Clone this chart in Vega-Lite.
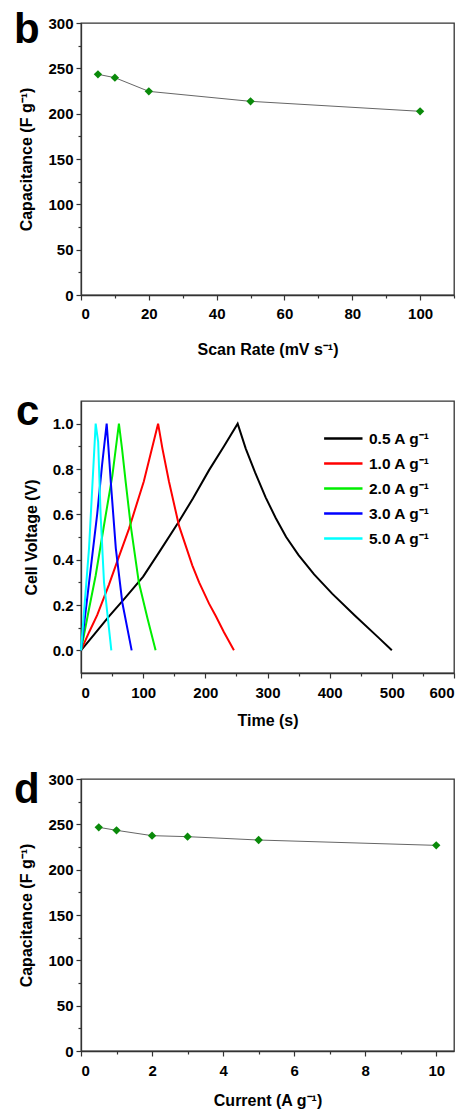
{
  "$schema": "https://vega.github.io/schema/vega-lite/v6.json",
  "background": "white",
  "padding": {"left": 13, "top": 8, "right": 2, "bottom": 0},
  "spacing": 106,
  "bounds": "flush",
  "resolve": {"scale": {"color": "independent"}, "legend": {"color": "independent"}},
  "config": {
    "font": "Liberation Sans",
    "view": {"stroke": "#333333", "strokeWidth": 1.3},
    "axis": {
      "labelFont": "Liberation Sans", "labelFontWeight": "bold", "labelFontSize": 15, "labelColor": "black",
      "titleFont": "Liberation Sans", "titleFontWeight": "bold", "titleFontSize": 16, "titleColor": "black",
      "domainColor": "#333333", "domainWidth": 1.3, "tickColor": "#333333", "tickWidth": 1.2, "grid": false
    },
    "legend": {"labelFont": "Liberation Sans"}
  },
  "datasets": {
    "b": [
      {"rate": 5, "cap": 243.4},
      {"rate": 10, "cap": 239.7},
      {"rate": 20, "cap": 224.6},
      {"rate": 50, "cap": 213.6},
      {"rate": 100, "cap": 202.6}
    ],
    "c": [
      {"series": "0.5 A g⁻¹", "t": 0, "v": 0.0},
      {"series": "0.5 A g⁻¹", "t": 20, "v": 0.066},
      {"series": "0.5 A g⁻¹", "t": 45, "v": 0.15},
      {"series": "0.5 A g⁻¹", "t": 70, "v": 0.228},
      {"series": "0.5 A g⁻¹", "t": 100, "v": 0.325},
      {"series": "0.5 A g⁻¹", "t": 125, "v": 0.43},
      {"series": "0.5 A g⁻¹", "t": 157, "v": 0.566},
      {"series": "0.5 A g⁻¹", "t": 180, "v": 0.67},
      {"series": "0.5 A g⁻¹", "t": 206, "v": 0.795},
      {"series": "0.5 A g⁻¹", "t": 230, "v": 0.9},
      {"series": "0.5 A g⁻¹", "t": 252, "v": 1.0},
      {"series": "0.5 A g⁻¹", "t": 265, "v": 0.89},
      {"series": "0.5 A g⁻¹", "t": 280, "v": 0.785},
      {"series": "0.5 A g⁻¹", "t": 297, "v": 0.675},
      {"series": "0.5 A g⁻¹", "t": 313, "v": 0.585},
      {"series": "0.5 A g⁻¹", "t": 330, "v": 0.5},
      {"series": "0.5 A g⁻¹", "t": 350, "v": 0.42},
      {"series": "0.5 A g⁻¹", "t": 375, "v": 0.335},
      {"series": "0.5 A g⁻¹", "t": 404, "v": 0.25},
      {"series": "0.5 A g⁻¹", "t": 440, "v": 0.155},
      {"series": "0.5 A g⁻¹", "t": 479, "v": 0.055},
      {"series": "0.5 A g⁻¹", "t": 500, "v": 0.0},
      {"series": "1.0 A g⁻¹", "t": 0, "v": 0.0},
      {"series": "1.0 A g⁻¹", "t": 13, "v": 0.08},
      {"series": "1.0 A g⁻¹", "t": 26, "v": 0.155},
      {"series": "1.0 A g⁻¹", "t": 45, "v": 0.29},
      {"series": "1.0 A g⁻¹", "t": 58, "v": 0.39},
      {"series": "1.0 A g⁻¹", "t": 77, "v": 0.535},
      {"series": "1.0 A g⁻¹", "t": 101, "v": 0.745},
      {"series": "1.0 A g⁻¹", "t": 124, "v": 1.0},
      {"series": "1.0 A g⁻¹", "t": 131, "v": 0.89},
      {"series": "1.0 A g⁻¹", "t": 141.5, "v": 0.745},
      {"series": "1.0 A g⁻¹", "t": 157.6, "v": 0.55},
      {"series": "1.0 A g⁻¹", "t": 179, "v": 0.375},
      {"series": "1.0 A g⁻¹", "t": 190, "v": 0.3},
      {"series": "1.0 A g⁻¹", "t": 206, "v": 0.206},
      {"series": "1.0 A g⁻¹", "t": 217, "v": 0.15},
      {"series": "1.0 A g⁻¹", "t": 230, "v": 0.08},
      {"series": "1.0 A g⁻¹", "t": 246, "v": 0.0},
      {"series": "2.0 A g⁻¹", "t": 0, "v": 0.0},
      {"series": "2.0 A g⁻¹", "t": 12, "v": 0.17},
      {"series": "2.0 A g⁻¹", "t": 23.6, "v": 0.33},
      {"series": "2.0 A g⁻¹", "t": 39.7, "v": 0.596},
      {"series": "2.0 A g⁻¹", "t": 50.4, "v": 0.77},
      {"series": "2.0 A g⁻¹", "t": 61, "v": 1.0},
      {"series": "2.0 A g⁻¹", "t": 66, "v": 0.89},
      {"series": "2.0 A g⁻¹", "t": 72, "v": 0.74},
      {"series": "2.0 A g⁻¹", "t": 80, "v": 0.55},
      {"series": "2.0 A g⁻¹", "t": 93, "v": 0.3},
      {"series": "2.0 A g⁻¹", "t": 107, "v": 0.14},
      {"series": "2.0 A g⁻¹", "t": 120, "v": 0.0},
      {"series": "3.0 A g⁻¹", "t": 0, "v": 0.0},
      {"series": "3.0 A g⁻¹", "t": 13, "v": 0.3},
      {"series": "3.0 A g⁻¹", "t": 26, "v": 0.6},
      {"series": "3.0 A g⁻¹", "t": 34, "v": 0.82},
      {"series": "3.0 A g⁻¹", "t": 41.3, "v": 1.0},
      {"series": "3.0 A g⁻¹", "t": 44, "v": 0.9},
      {"series": "3.0 A g⁻¹", "t": 48, "v": 0.74},
      {"series": "3.0 A g⁻¹", "t": 56, "v": 0.45},
      {"series": "3.0 A g⁻¹", "t": 66.5, "v": 0.21},
      {"series": "3.0 A g⁻¹", "t": 81.5, "v": 0.0},
      {"series": "5.0 A g⁻¹", "t": 0, "v": 0.0},
      {"series": "5.0 A g⁻¹", "t": 12.9, "v": 0.45},
      {"series": "5.0 A g⁻¹", "t": 23.6, "v": 1.0},
      {"series": "5.0 A g⁻¹", "t": 27.6, "v": 0.92},
      {"series": "5.0 A g⁻¹", "t": 31.6, "v": 0.595},
      {"series": "5.0 A g⁻¹", "t": 37, "v": 0.3},
      {"series": "5.0 A g⁻¹", "t": 48.8, "v": 0.0}
    ],
    "d": [
      {"cur": 0.5, "cap": 246.7},
      {"cur": 1, "cap": 243.4},
      {"cur": 2, "cap": 237.5},
      {"cur": 3, "cap": 236.4},
      {"cur": 5, "cap": 232.7},
      {"cur": 10, "cap": 226.8}
    ]
  },
  "vconcat": [
    {
      "width": 373, "height": 272,
      "title": {"text": "b", "orient": "none", "anchor": "start", "frame": "group", "fontSize": 42, "fontWeight": "bold", "font": "Liberation Sans", "color": "black", "baseline": "alphabetic", "offset": 0, "dx": -67, "dy": 20},
      "data": {"name": "b"},
      "encoding": {
        "x": {"field": "rate", "type": "quantitative", "scale": {"domain": [0, 110], "nice": false, "zero": false},
          "axis": {"title": "Scan Rate (mV s⁻¹)", "values": [0, 10, 20, 30, 40, 50, 60, 70, 80, 90, 100, 110],
            "labelExpr": "datum.value % 20 === 0 && datum.value <= 100 ? datum.label : ''",
            "tickSize": {"condition": {"test": "datum.value % 20 === 0", "value": 5}, "value": 3},
            "labelPadding": 6, "titlePadding": 20}},
        "y": {"field": "cap", "type": "quantitative", "scale": {"domain": [0, 300], "nice": false},
          "axis": {"title": "Capacitance (F g⁻¹)", "values": [0, 25, 50, 75, 100, 125, 150, 175, 200, 225, 250, 275, 300],
            "labelExpr": "datum.value % 50 === 0 ? datum.label : ''",
            "tickSize": {"condition": {"test": "datum.value % 50 === 0", "value": 5}, "value": 3},
            "labelPadding": 3, "titlePadding": 13}}
      },
      "layer": [
        {"mark": {"type": "line", "color": "#666666", "strokeWidth": 1}},
        {"mark": {"type": "point", "shape": "diamond", "filled": true, "color": "#0a8a0a", "opacity": 1, "size": 70}}
      ]
    },
    {
      "width": 373, "height": 272,
      "title": {"text": "c", "orient": "none", "anchor": "start", "frame": "group", "fontSize": 42, "fontWeight": "bold", "font": "Liberation Sans", "color": "black", "baseline": "alphabetic", "offset": 0, "dx": -65, "dy": 24},
      "data": {"name": "c"},
      "mark": {"type": "line", "strokeWidth": 2},
      "encoding": {
        "x": {"field": "t", "type": "quantitative", "scale": {"domain": [0, 600], "nice": false},
          "axis": {"title": "Time (s)", "values": [0, 50, 100, 150, 200, 250, 300, 350, 400, 450, 500, 550, 600],
            "labelExpr": "datum.value % 100 === 0 ? datum.label : ''",
            "tickSize": {"condition": {"test": "datum.value % 100 === 0", "value": 5}, "value": 3},
            "labelPadding": 7, "titlePadding": 12}},
        "y": {"field": "v", "type": "quantitative", "scale": {"domain": [-0.1, 1.1], "nice": false, "zero": false},
          "axis": {"title": "Cell Voltage (V)", "values": [0, 0.1, 0.2, 0.3, 0.4, 0.5, 0.6, 0.7, 0.8, 0.9, 1.0], "format": ".1f",
            "labelExpr": "round(datum.value * 10) % 2 === 0 ? datum.label : ''",
            "tickSize": {"condition": {"test": "round(datum.value * 10) % 2 === 0", "value": 5}, "value": 3},
            "labelPadding": 3, "titlePadding": 13}},
        "color": {"field": "series", "type": "nominal",
          "scale": {"domain": ["0.5 A g⁻¹", "1.0 A g⁻¹", "2.0 A g⁻¹", "3.0 A g⁻¹", "5.0 A g⁻¹"], "range": ["#000000", "#ff0000", "#00ee00", "#0000ff", "#00ffff"]},
          "legend": {"title": null, "orient": "top-right", "offset": 24, "symbolType": "M-2.2,0H1", "symbolSize": 576, "symbolStrokeWidth": 2.5,
            "labelFontSize": 15.5, "labelFontWeight": "bold", "labelColor": "black", "rowPadding": 3, "labelOffset": 5}}
      }
    },
    {
      "width": 373, "height": 272,
      "title": {"text": "d", "orient": "none", "anchor": "start", "frame": "group", "fontSize": 42, "fontWeight": "bold", "font": "Liberation Sans", "color": "black", "baseline": "alphabetic", "offset": 0, "dx": -67, "dy": 24},
      "data": {"name": "d"},
      "encoding": {
        "x": {"field": "cur", "type": "quantitative", "scale": {"domain": [0, 10.5], "nice": false, "zero": false},
          "axis": {"title": "Current (A g⁻¹)", "values": [0, 1, 2, 3, 4, 5, 6, 7, 8, 9, 10],
            "labelExpr": "datum.value % 2 === 0 ? datum.label : ''",
            "tickSize": {"condition": {"test": "datum.value % 2 === 0", "value": 5}, "value": 3},
            "labelPadding": 7, "titlePadding": 14}},
        "y": {"field": "cap", "type": "quantitative", "scale": {"domain": [0, 300], "nice": false},
          "axis": {"title": "Capacitance (F g⁻¹)", "values": [0, 25, 50, 75, 100, 125, 150, 175, 200, 225, 250, 275, 300],
            "labelExpr": "datum.value % 50 === 0 ? datum.label : ''",
            "tickSize": {"condition": {"test": "datum.value % 50 === 0", "value": 5}, "value": 3},
            "labelPadding": 3, "titlePadding": 13}}
      },
      "layer": [
        {"mark": {"type": "line", "color": "#666666", "strokeWidth": 1}},
        {"mark": {"type": "point", "shape": "diamond", "filled": true, "color": "#0a8a0a", "opacity": 1, "size": 70}}
      ]
    }
  ]
}
